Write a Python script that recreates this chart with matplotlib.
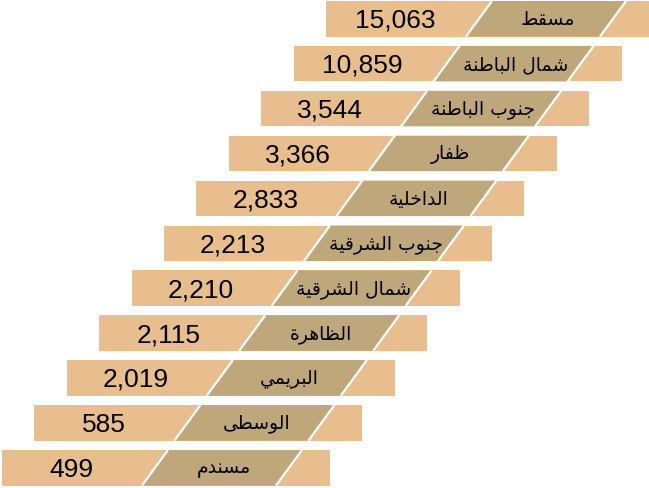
import matplotlib
matplotlib.use("Agg")
import matplotlib.pyplot as plt
from matplotlib import font_manager
from matplotlib.patches import Rectangle, Polygon

# regions (top to bottom) and their values
regions = ["مسقط", "شمال الباطنة", "جنوب الباطنة", "ظفار", "الداخلية",
           "جنوب الشرقية", "شمال الشرقية", "الظاهرة", "البريمي", "الوسطى", "مسندم"]
values = [15063, 10859, 3544, 3366, 2833, 2213, 2210, 2115, 2019, 585, 499]

light = "#E8BE8E"
dark = "#BEA77A"

# narrow font for the numbers if there is one
names = {f.name for f in font_manager.fontManager.ttflist}
if "Liberation Sans Narrow" in names:
    numfont, numsize = "Liberation Sans Narrow", 21
else:
    numfont, numsize = "Liberation Sans", 19

# arabic presentation forms: isolated, final, initial, medial
forms = {
    "ا": ("\uFE8D", "\uFE8E"), "ب": ("\uFE8F", "\uFE90", "\uFE91", "\uFE92"),
    "ة": ("\uFE93", "\uFE94"), "ج": ("\uFE9D", "\uFE9E", "\uFE9F", "\uFEA0"),
    "خ": ("\uFEA5", "\uFEA6", "\uFEA7", "\uFEA8"), "د": ("\uFEA9", "\uFEAA"),
    "ر": ("\uFEAD", "\uFEAE"), "س": ("\uFEB1", "\uFEB2", "\uFEB3", "\uFEB4"),
    "ش": ("\uFEB5", "\uFEB6", "\uFEB7", "\uFEB8"), "ط": ("\uFEC1", "\uFEC2", "\uFEC3", "\uFEC4"),
    "ظ": ("\uFEC5", "\uFEC6", "\uFEC7", "\uFEC8"), "ف": ("\uFED1", "\uFED2", "\uFED3", "\uFED4"),
    "ق": ("\uFED5", "\uFED6", "\uFED7", "\uFED8"), "ل": ("\uFEDD", "\uFEDE", "\uFEDF", "\uFEE0"),
    "م": ("\uFEE1", "\uFEE2", "\uFEE3", "\uFEE4"), "ن": ("\uFEE5", "\uFEE6", "\uFEE7", "\uFEE8"),
    "ه": ("\uFEE9", "\uFEEA", "\uFEEB", "\uFEEC"), "و": ("\uFEED", "\uFEEE"),
    "ى": ("\uFEEF", "\uFEF0"), "ي": ("\uFEF1", "\uFEF2", "\uFEF3", "\uFEF4"),
}


def shape(txt):
    # join letters and put them in visual (right to left) order
    out = []
    for i, c in enumerate(txt):
        if c not in forms:
            out.append(c)
            continue
        f = forms[c]
        prev = txt[i - 1] if i > 0 else " "
        nxt = txt[i + 1] if i < len(txt) - 1 else " "
        jp = prev in forms and len(forms[prev]) == 4
        jn = nxt in forms and len(f) == 4
        if jp and jn:
            out.append(f[3])
        elif jp:
            out.append(f[1])
        elif jn:
            out.append(f[2])
        else:
            out.append(f[0])
    return "".join(out)[::-1]


fig = plt.figure(figsize=(6.49, 4.89), dpi=100)
ax = fig.add_axes([0, 0, 1, 1])
ax.set_xlim(0, 649)
ax.set_ylim(489, 0)
ax.axis("off")

n = len(regions)
w, h = 328, 35.5
slant = 26
for i, (reg, val) in enumerate(zip(regions, values)):
    x0 = 2 + 32.4 * (n - 1 - i)
    y0 = 2 + 44.9 * i
    y1 = y0 + h
    ax.add_patch(Rectangle((x0, y0), w, h, facecolor=light, edgecolor="none"))
    pts = [(x0 + 140, y1), (x0 + 140 + slant, y0), (x0 + 300, y0), (x0 + 300 - slant, y1)]
    ax.add_patch(Polygon(pts, closed=True, facecolor=dark, edgecolor="none"))
    for xb in (x0 + 140, x0 + 274):
        ax.plot([xb, xb + slant], [y1, y0], color="white", lw=1.6, solid_capstyle="butt")
    ax.text(x0 + 69, y0 + h / 2 + 1, f"{val:,}", ha="center", va="center",
            fontsize=numsize, color="black", family=numfont)
    ax.text(x0 + 222, y0 + h / 2, shape(reg), ha="center", va="center",
            fontsize=13.5, color="black", family="DejaVu Sans")

fig.savefig("out.png", dpi=100)
